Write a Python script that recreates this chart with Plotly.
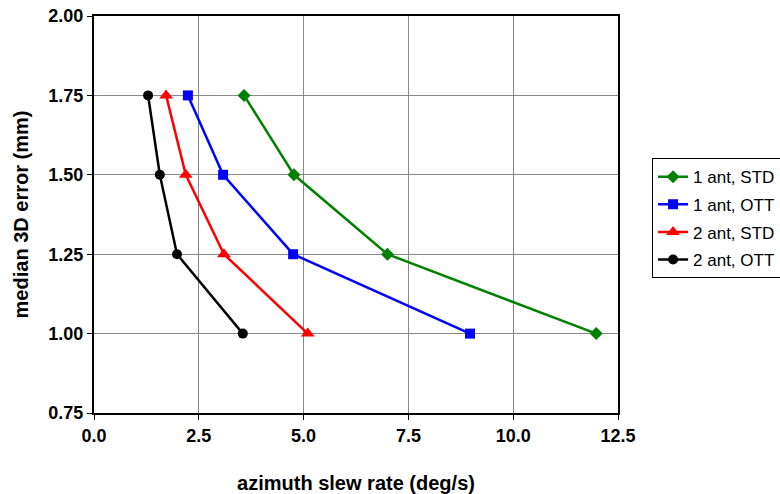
import plotly.graph_objects as go

y_vals = [1.75, 1.50, 1.25, 1.00]
x_1ant_std = [3.58, 4.77, 7.00, 11.98]
x_1ant_ott = [2.24, 3.08, 4.75, 8.97]
x_2ant_std = [1.72, 2.19, 3.10, 5.10]
x_2ant_ott = [1.29, 1.57, 1.98, 3.55]

names = ["1 ant, STD", "1 ant, OTT", "2 ant, STD", "2 ant, OTT"]
colors = ["#008000", "#0000FF", "#FF0000", "#000000"]
symbols = ["diamond", "square", "triangle-up", "circle"]
sizes = [10, 10, 12, 10]
series = [x_1ant_std, x_1ant_ott, x_2ant_std, x_2ant_ott]

x_ticks = [0.0, 2.5, 5.0, 7.5, 10.0, 12.5]
y_ticks = [0.75, 1.00, 1.25, 1.50, 1.75, 2.00]

fig = go.Figure()
for i, (xs, n, c, s, sz) in enumerate(zip(series, names, colors, symbols, sizes)):
    fig.add_trace(go.Scatter(
        x=xs, y=y_vals, name=n, mode="lines+markers",
        legendgroup=f"g{i}",
        line=dict(color=c, width=2.5),
        marker=dict(symbol=s, size=sz, color=c),
        cliponaxis=False,
    ))

font = "Liberation Sans, Arial, sans-serif"
fig.update_layout(
    width=780, height=494,
    margin=dict(l=94, r=162, t=16, b=81, autoexpand=False),
    paper_bgcolor="white", plot_bgcolor="white",
    font=dict(family=font, color="black", size=17),
    showlegend=True,
    legend=dict(
        x=1.065, y=0.642, xanchor="left", yanchor="top",
        bordercolor="black", borderwidth=1,
        font=dict(size=17, family=font),
        tracegroupgap=2.5, itemwidth=30,
    ),
    xaxis=dict(
        range=[0, 12.5], tickvals=x_ticks,
        ticktext=[f"{v:.1f}" for v in x_ticks],
        showgrid=True, gridcolor="#888888", gridwidth=1,
        showline=True, linecolor="black", linewidth=2, mirror=True,
        ticks="outside", ticklen=5, tickcolor="black",
        tickfont=dict(size=18, family=font, weight="bold"),
        ticklabeloverflow="allow",
        title=dict(text="<b>azimuth slew rate (deg/s)</b>", font=dict(size=20), standoff=31),
        zeroline=False, automargin=False,
    ),
    yaxis=dict(
        range=[0.75, 2.0], tickvals=y_ticks,
        ticktext=[f"{v:.2f}" for v in y_ticks],
        showgrid=True, gridcolor="#888888", gridwidth=1,
        showline=True, linecolor="black", linewidth=2, mirror=True,
        ticks="outside", ticklen=5, tickcolor="black",
        tickfont=dict(size=18, family=font, weight="bold"),
        ticklabeloverflow="allow",
        title=dict(text="<b>median 3D error (mm)</b>", font=dict(size=20), standoff=14),
        zeroline=False, automargin=False,
    ),
)

fig.write_html("out.html", config={"displayModeBar": False},
               post_script="document.body.style.margin='0';")
